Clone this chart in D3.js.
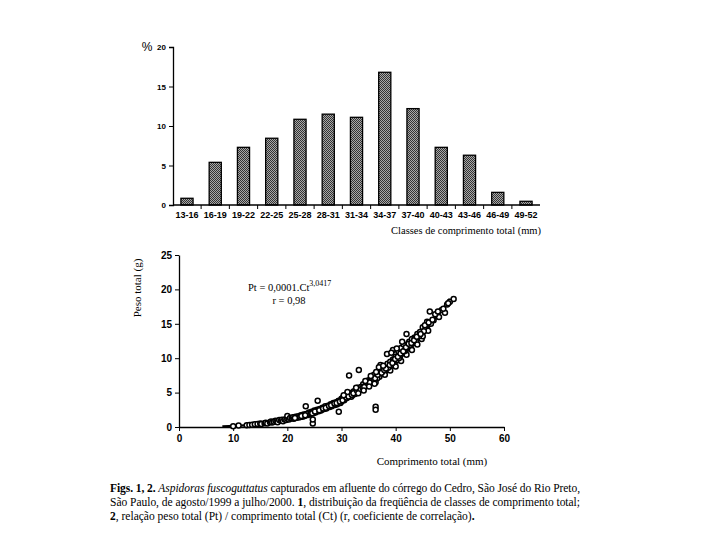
<!DOCTYPE html>
<html>
<head>
<meta charset="utf-8">
<script src="https://cdn.jsdelivr.net/npm/d3@7"></script>
<style>
  body { margin: 0; background: #fff; }
  svg { display: block; }
</style>
</head>
<body>
<div id="chart"></div>
<script>
// histogram data (fig. 1)
var classes = ["13-16","16-19","19-22","22-25","25-28","28-31","31-34","34-37","37-40","40-43","43-46","46-49","49-52"]
var freq = [0.85, 5.4, 7.3, 8.45, 10.85, 11.5, 11.1, 16.8, 12.2, 7.3, 6.3, 1.6, 0.47]
var histTicks = [0, 5, 10, 15, 20]

// fitted curve
var curveCt = [8, 10, 12, 14, 16, 18, 20, 22, 24, 26, 28, 30, 32, 34, 36, 38, 40, 42, 44, 46, 48, 50]
var curvePt = [0.07, 0.14, 0.24, 0.39, 0.58, 0.83, 1.15, 1.53, 2.0, 2.55, 3.2, 3.95, 4.8, 5.75, 6.85, 8.05, 9.4, 10.9, 12.6, 14.4, 16.4, 18.6]

// scatter points [Ct (mm), Pt (g)]
var fish = [
  [10,0.12],[11,0.2],[12.5,0.25],[13,0.3],[13.5,0.32],[14,0.4],[14.5,0.42],[15,0.5],[15.2,0.45],
  [15.8,0.55],[16,0.62],[16.3,0.5],[16.8,0.7],[17,0.8],[17.2,0.65],[17.5,0.75],[17.8,0.9],[18,0.85],[18.2,0.7],
  [18.5,1.0],[18.8,0.9],[19,1.05],[19.2,0.85],[19.5,1.1],[19.8,1.0],[20,1.2],[20,1.6],[20.3,1.1],[20.5,1.3],
  [20.8,1.25],[21,1.4],[21.2,1.2],[21.5,1.5],[21.8,1.35],[22,1.55],[22.2,1.4],[22.5,1.7],[22.8,1.5],[23,1.8],
  [23.2,1.6],[23.4,3.0],[23.5,1.9],[23.8,1.75],[24,2.1],[24.2,1.9],[24.5,2.2],[24.7,0.5],[24.7,1.1],[24.8,2.0],
  [25,2.4],[25.2,2.1],[25.5,2.5],[25.6,3.8],[25.8,2.3],[26,2.6],[26.2,2.4],[26.5,2.8],[26.8,2.6],[27,3.0],
  [27.2,2.7],[27.5,3.1],[27.8,2.9],[28,3.3],[28.2,3.0],[28.5,3.5],[28.8,3.2],[29,3.6],[29.2,3.3],[29.5,2.2],
  [29.5,3.8],[29.8,3.5],[30,4.1],[30,3.7],[30.3,4.3],[30.5,3.9],[30.8,4.5],[31,4.2],[31,4.8],[31.4,7.5],
  [31.5,4.6],[31.8,4.4],[32,5.0],[32,4.6],[32.3,5.2],[32.5,4.8],[32.8,5.4],[33,5.1],[33,5.7],[33.2,8.3],
  [33.5,5.5],[33.8,5.9],[34,5.6],[34,6.2],[34.3,5.9],[34.5,6.4],[34.8,6.1],[35,6.8],[35,6.2],[35.3,6.6],
  [35.5,7.2],[35.8,6.8],[36,7.0],[36,7.6],[36.3,2.95],[36.3,2.5],[36.3,6.5],[36.5,7.4],[36.8,7.9],[37,7.3],
  [37,8.2],[37.3,7.8],[37.5,8.5],[37.8,8.0],[38,8.8],[38,7.6],[38.3,8.3],[38.5,9.2],[38.8,8.7],[39,9.5],
  [39,8.2],[39.3,9.0],[39.5,11.2],[39.5,9.8],[39.8,9.3],[40,10.2],[40,8.8],[40.3,9.7],[40.5,11.0],[40.8,10.3],
  [41,11.5],[41,9.6],[41.3,10.8],[41.5,12.0],[41.8,11.2],[42,13.5],[42,10.5],[42.3,11.8],[42.5,12.4],[42.8,11.5],
  [43,12.8],[43,11.2],[43.3,12.2],[43.5,13.0],[43.8,12.5],[44,13.5],[44,12.0],[44.5,13.8],[44.8,12.8],[45,14.5],
  [45,13.2],[45.5,14.2],[45.8,15.3],[46,14.0],[46.3,16.8],[46.5,15.0],[47,15.5],[47.5,16.2],[48,16.0],[48.5,17.0],
  [49.1,16.6],[49.5,17.8],[50,18.2],[50.7,18.6],
  [22.4,1.45],[23.6,1.85],[24.4,2.05],[25.4,2.3],[26.4,2.55],[27.4,2.95],[28.4,3.3],[29.4,3.75],[30.6,4.1],[31.6,4.75],
  [32.6,5.1],[33.6,5.8],[34.6,6.0],[35.6,6.9],[36.6,7.1],[37.6,8.1],[38.6,8.6],[39.6,9.6],[40.6,10.0],[41.6,11.0],
  [42.6,11.9],[43.6,12.9],[44.3,13.2],[45.2,13.9],[38.4,10.6],[39.2,10.8],[40.2,11.4],[41.2,12.4],[37.2,9.0],[36.9,8.7],
  [21.4,1.3],[22.6,1.6],[23.3,1.7],[24.6,2.0],[25.1,2.25],[25.9,2.45],[26.6,2.7],[27.1,2.8],[27.7,3.05],[28.1,3.15],
  [28.7,3.4],[29.1,3.5],[29.7,3.7],[30.2,3.9],[30.9,4.3],[31.3,4.45],[31.9,4.7],[32.2,4.9],[32.9,5.25],[33.3,5.4],
  [33.9,5.7],[34.2,5.8],[34.9,6.4],[35.2,6.45],[35.9,7.0],[36.2,7.1],[36.7,7.6],[37.4,7.9],[37.9,8.3],[38.2,8.5],
  [38.9,9.0],[39.4,9.3],[39.9,9.9],[40.4,10.2],[40.9,10.7],[41.4,11.0],[41.9,11.6],[42.4,12.1],[42.9,12.2],[43.4,12.6],
  [43.9,13.1],[44.6,13.5],[45.4,14.8],[46.1,15.2],[46.8,15.6],[47.3,16.4],[47.8,16.8],[48.8,17.2],[49.7,18.0],[31.1,5.1],
  [30.4,4.6],[32.7,5.7],[34.4,6.7],[35.4,7.4],[36.4,8.0],[37.7,8.9],[33.1,4.9],[34.1,5.3],[35.1,5.9],[36.1,6.3]
]
var ptTicks = [0, 5, 10, 15, 20, 25]
var ctTicks = [0, 10, 20, 30, 40, 50, 60]

var svg = d3.select("#chart").append("svg")
    .attr("width", 720)
    .attr("height", 540)

var defs = svg.append("defs")
var pat = defs.append("pattern")
    .attr("id", "dots")
    .attr("width", 2).attr("height", 2)
    .attr("patternUnits", "userSpaceOnUse")
pat.append("rect").attr("width", 2).attr("height", 2).attr("fill", "#a8a8a8")
pat.append("rect").attr("width", 1).attr("height", 1).attr("fill", "#333")
pat.append("rect").attr("x", 1).attr("y", 1).attr("width", 1).attr("height", 1).attr("fill", "#333")

// ---------- fig 1: histogram ----------
var hx = d3.scaleBand().domain(classes).range([173, 540]).paddingInner(0.57).paddingOuter(0.28)
var hy = d3.scaleLinear().domain([0, 20]).range([205, 47])

var hist = svg.append("g")

hist.selectAll("rect.bar")
    .data(freq)
  .enter()
    .append("rect")
    .attr("class", "bar")
    .attr("x", function(d, i){ return hx(classes[i]) })
    .attr("width", hx.bandwidth())
    .attr("y", function(d){ return hy(d) })
    .attr("height", function(d){ return hy(0) - hy(d) })
    .attr("fill", "url(#dots)")
    .attr("stroke", "#000")
    .attr("stroke-width", 1.3)

var hyAxis = hist.append("g")
    .attr("transform", "translate(173,0)")
    .call(d3.axisLeft(hy).tickValues(histTicks).tickSize(4).tickPadding(3))
hyAxis.select(".domain").attr("stroke-width", 1.3)
hyAxis.selectAll("text")
    .style("font-family", "Liberation Sans, Arial, sans-serif")
    .style("font-weight", "bold")
    .style("font-size", "8px")

// x axis: ticks sit between the classes
var step = hx.step()
var hxAxis = hist.append("g").attr("transform", "translate(0,205)")
hxAxis.append("line")
    .attr("x1", 173).attr("x2", 540)
    .attr("stroke", "#000").attr("stroke-width", 1.3)
hxAxis.selectAll("line.tk")
    .data(classes.slice(1))
  .enter()
    .append("line")
    .attr("class", "tk")
    .attr("x1", function(d){ return hx(d) - (step - hx.bandwidth()) / 2 })
    .attr("x2", function(d){ return hx(d) - (step - hx.bandwidth()) / 2 })
    .attr("y1", 0).attr("y2", 4)
    .attr("stroke", "#000")
hxAxis.selectAll("text")
    .data(classes)
  .enter()
    .append("text")
    .attr("x", function(d){ return hx(d) + hx.bandwidth() / 2 })
    .attr("y", 13)
    .attr("text-anchor", "middle")
    .attr("textLength", 23)
    .attr("lengthAdjust", "spacingAndGlyphs")
    .style("font-family", "Liberation Sans, Arial, sans-serif")
    .style("font-weight", "bold")
    .style("font-size", "9px")
    .text(function(d){ return d })

hist.append("text")
    .attr("x", 147).attr("y", 51)
    .attr("text-anchor", "middle")
    .style("font-family", "Liberation Sans, Arial, sans-serif")
    .style("font-size", "12px")
    .text("%")

hist.append("text")
    .attr("x", 541).attr("y", 234)
    .attr("text-anchor", "end")
    .style("font-family", "Liberation Serif, Times New Roman, serif")
    .style("font-size", "10.5px")
    .text("Classes de comprimento total (mm)")

// ---------- fig 2: weight / length ----------
var sx = d3.scaleLinear().domain([0, 60]).range([179, 504])
var sy = d3.scaleLinear().domain([0, 25]).range([427, 255])

var sc = svg.append("g")

var sxAxis = sc.append("g")
    .attr("transform", "translate(0,427)")
    .call(d3.axisBottom(sx).tickValues(ctTicks).tickSize(4).tickPadding(4).tickSizeOuter(0))
var syAxis = sc.append("g")
    .attr("transform", "translate(179,0)")
    .call(d3.axisLeft(sy).tickValues(ptTicks).tickSize(4).tickPadding(3).tickSizeOuter(0))
sc.selectAll(".domain").attr("stroke-width", 1.3)
sc.selectAll(".tick text")
    .style("font-family", "Liberation Sans, Arial, sans-serif")
    .style("font-weight", "bold")
    .style("font-size", "10px")

var line = d3.line()
    .x(function(d, i){ return sx(curveCt[i]) })
    .y(function(d){ return sy(d) })
    .curve(d3.curveMonotoneX)
sc.append("path")
    .attr("d", line(curvePt))
    .attr("fill", "none")
    .attr("stroke", "#000")
    .attr("stroke-width", 2.4)

sc.selectAll("circle.pt")
    .data(fish)
  .enter()
    .append("circle")
    .attr("class", "pt")
    .attr("cx", function(d){ return sx(d[0]) })
    .attr("cy", function(d){ return sy(d[1]) })
    .attr("r", 2.5)
    .attr("fill", "#fff")
    .attr("stroke", "#000")
    .attr("stroke-width", 1.5)

var eq = sc.append("text")
    .attr("x", 248).attr("y", 291)
    .style("font-family", "Liberation Serif, Times New Roman, serif")
    .style("font-size", "10.5px")
eq.append("tspan").text("Pt = 0,0001.Ct")
eq.append("tspan").attr("dy", -5).style("font-size", "8px").text("3,0417")

sc.append("text")
    .attr("x", 289).attr("y", 304)
    .attr("text-anchor", "middle")
    .style("font-family", "Liberation Serif, Times New Roman, serif")
    .style("font-size", "10.5px")
    .text("r = 0,98")

sc.append("text")
    .attr("transform", "translate(141,288) rotate(-90)")
    .attr("text-anchor", "middle")
    .style("font-family", "Liberation Serif, Times New Roman, serif")
    .style("font-size", "11px")
    .text("Peso total (g)")

sc.append("text")
    .attr("x", 432).attr("y", 465)
    .attr("text-anchor", "middle")
    .style("font-family", "Liberation Serif, Times New Roman, serif")
    .style("font-size", "11px")
    .text("Comprimento total (mm)")

// ---------- caption ----------
var cap = svg.append("g")
    .style("font-family", "Liberation Serif, Times New Roman, serif")
    .style("font-size", "11.5px")

var l1 = cap.append("text").attr("x", 110).attr("y", 492).attr("textLength", 470).attr("lengthAdjust", "spacing")
l1.append("tspan").style("font-weight", "bold").text("Figs. 1, 2. ")
l1.append("tspan").style("font-style", "italic").text("Aspidoras fuscoguttatus")
l1.append("tspan").text(" capturados em afluente do córrego do Cedro, São José do Rio Preto,")

var l2 = cap.append("text").attr("x", 110).attr("y", 506).attr("textLength", 470).attr("lengthAdjust", "spacing")
l2.append("tspan").text("São Paulo, de agosto/1999 a julho/2000. ")
l2.append("tspan").style("font-weight", "bold").text("1")
l2.append("tspan").text(", distribuição da freqüência de classes de comprimento total;")

var l3 = cap.append("text").attr("x", 110).attr("y", 520)
l3.append("tspan").style("font-weight", "bold").text("2")
l3.append("tspan").text(", relação peso total (Pt) / comprimento total (Ct) (r, coeficiente de correlação)")
l3.append("tspan").style("font-weight", "bold").text(".")
</script>
</body>
</html>
